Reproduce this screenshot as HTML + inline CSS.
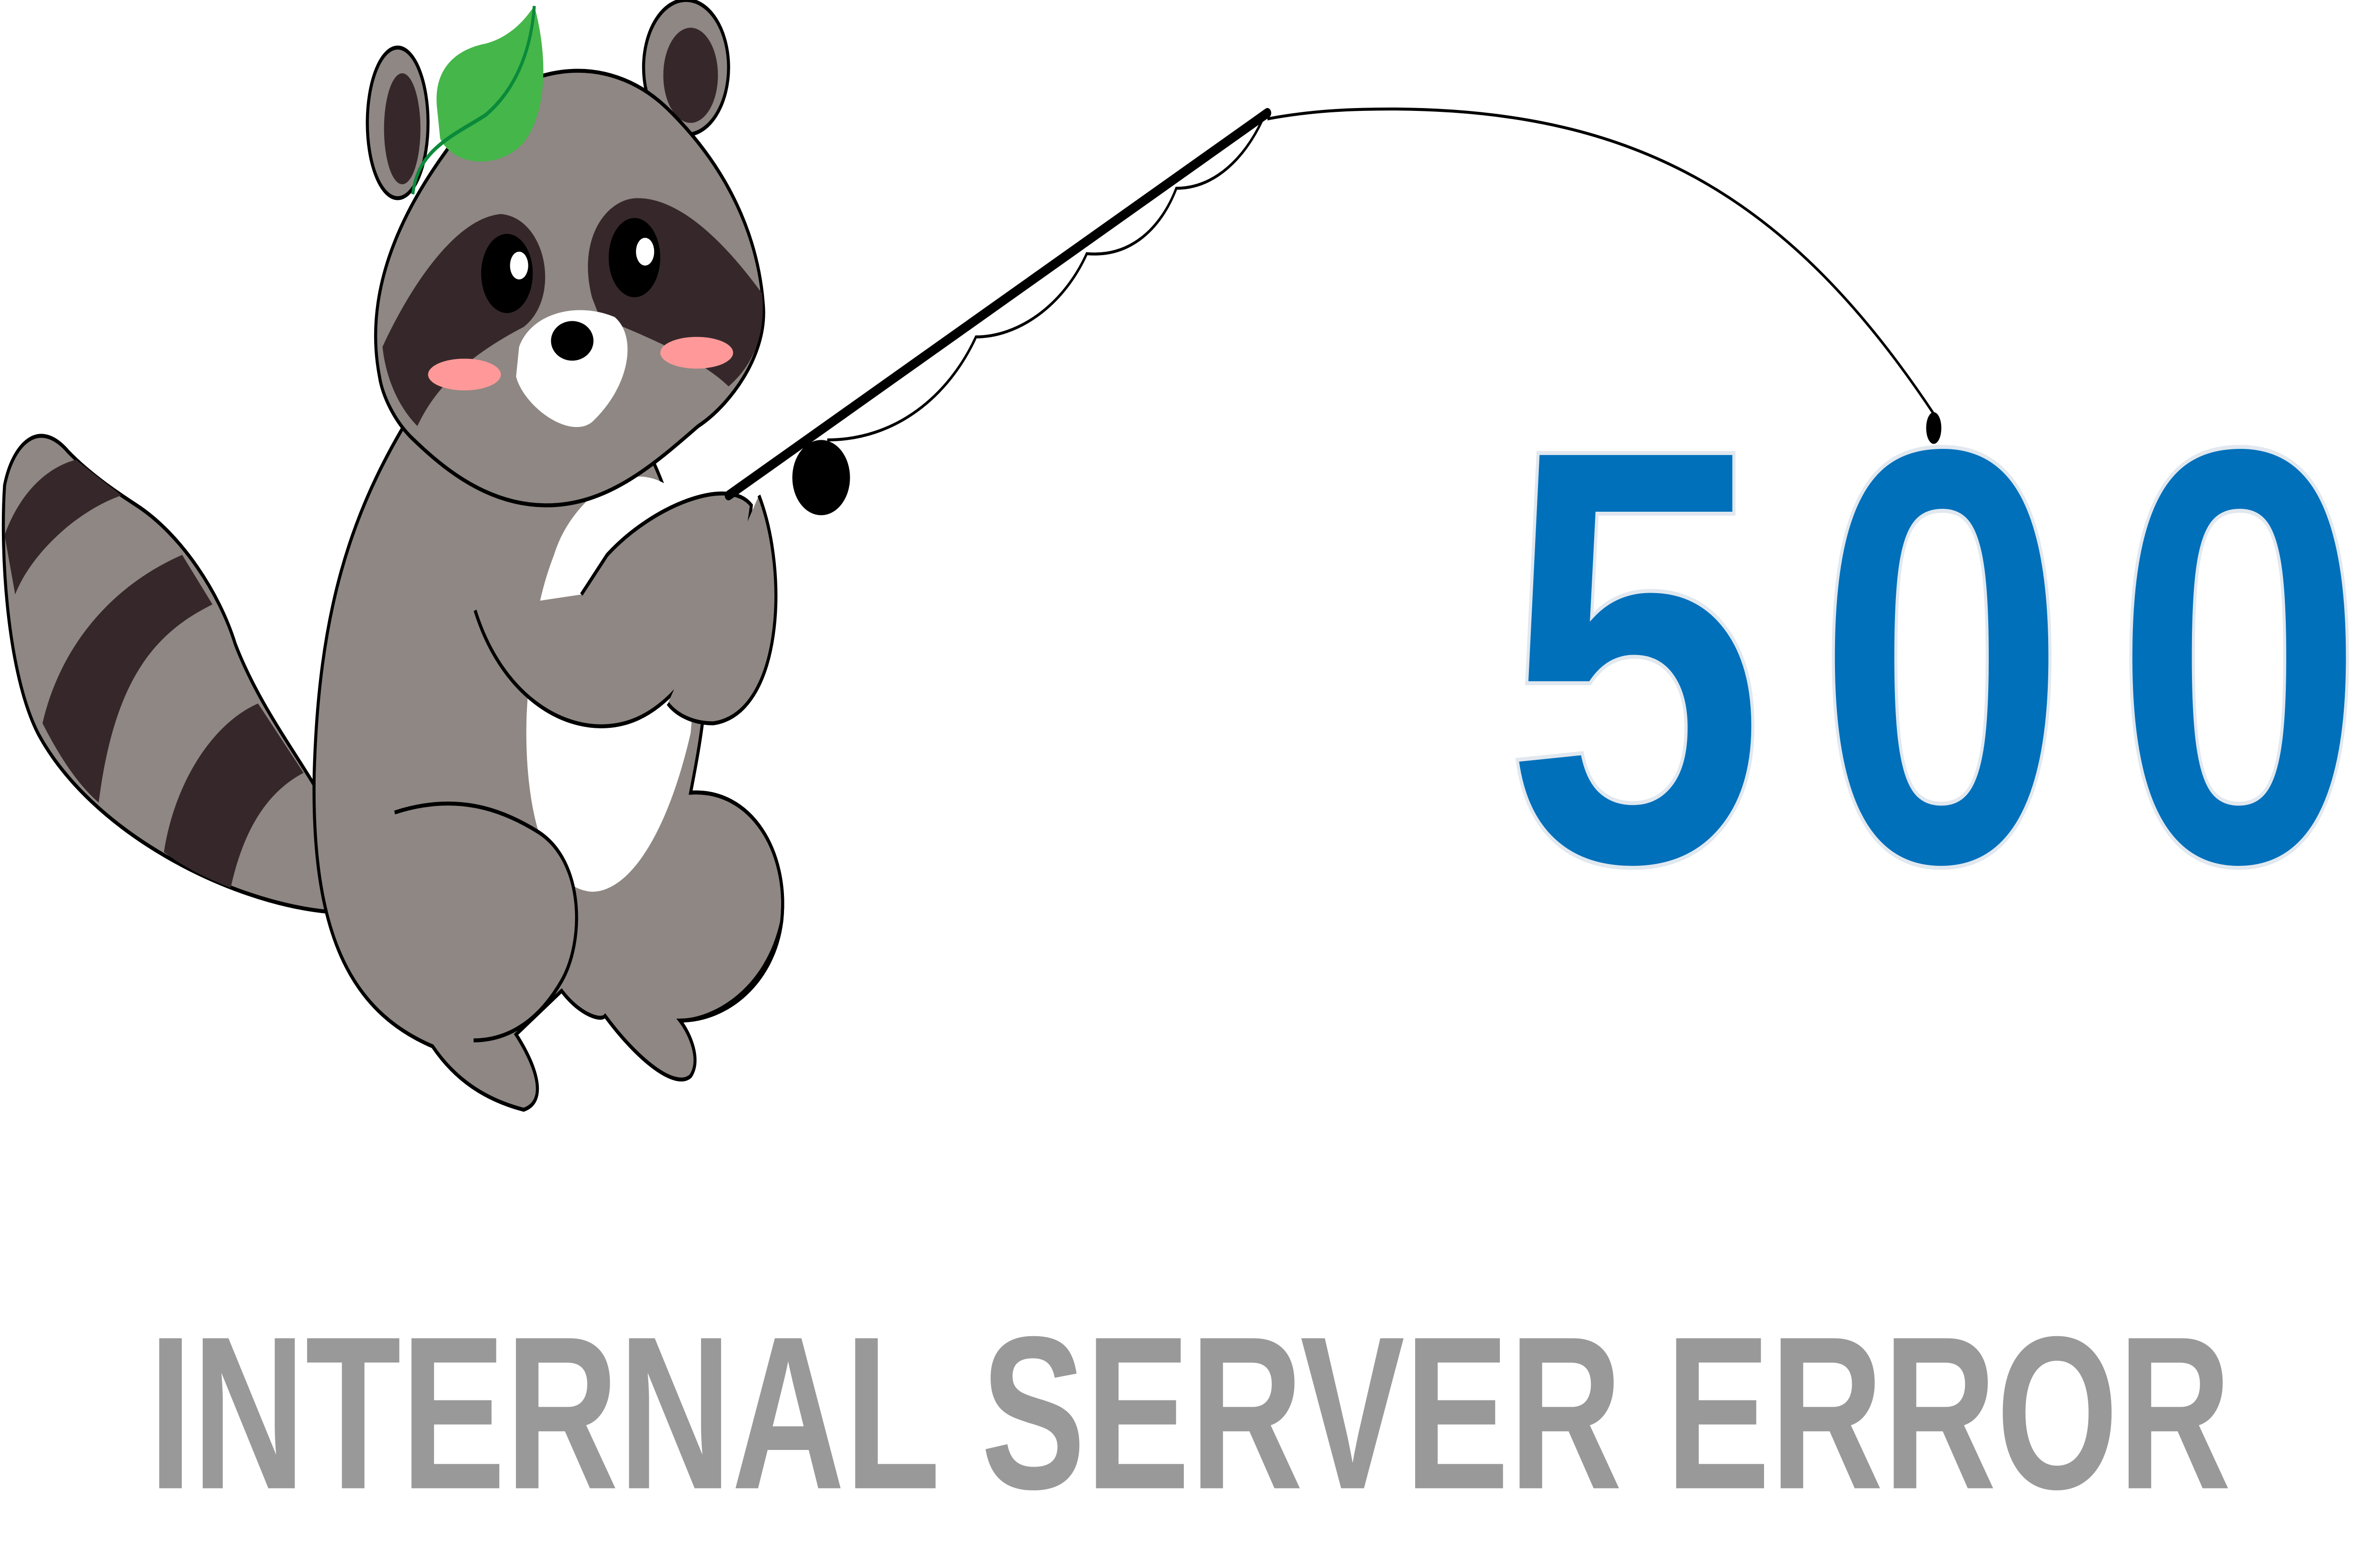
<!DOCTYPE html>
<html><head><meta charset="utf-8"><style>
html,body{margin:0;padding:0;background:#fff;width:100%;height:100%;overflow:hidden}
svg{display:block;position:fixed;left:0;top:0;width:100vw;height:100vh}
</style></head><body>
<svg viewBox="0 0 1568 786.2" preserveAspectRatio="none" xmlns="http://www.w3.org/2000/svg">
<!-- tail -->
<path d="M215,460 C150,455 60,420 25,370 C5,340 0,280 3,245 C8,225 25,210 45,228 C60,240 80,250 90,255 C120,270 145,300 155,325 C170,355 195,380 210,400 Z" fill="#8e8783" stroke="#000" stroke-width="2"/>
<path d="M3,270 C15,245 35,235 50,232 L80,250 C50,258 20,280 10,300 Z" fill="#36282a"/>
<path d="M28,365 C40,325 75,295 120,280 L140,305 C100,320 75,345 65,405 C50,395 38,380 28,365 Z" fill="#36282a"/>
<path d="M108,430 C115,395 140,365 170,355 L200,390 C175,400 160,420 152,448 C135,443 120,437 108,430 Z" fill="#36282a"/>
<!-- body -->
<path d="M270,210 C230,260 210,310 207,390 C205,470 230,510 285,528 C300,545 320,555 345,560 C360,556 355,540 340,522 L370,500 C385,515 400,515 398,512 C420,535 445,550 455,543 C462,535 455,522 448,515 C480,515 510,495 515,465 C520,430 495,398 455,400 C460,380 465,360 465,340 C450,260 430,220 400,200 Z" fill="#8e8783" stroke="#000" stroke-width="2"/>
<path d="M365,280 C375,255 410,230 440,245 C455,275 460,330 455,370 C440,420 415,450 390,450 C355,448 345,400 347,360 C350,320 355,300 365,280 Z" fill="#fff"/>
<path d="M260,410 C300,400 330,408 355,420 C385,435 385,475 370,495 C355,515 335,525 312,525" fill="#8e8783" stroke="#000" stroke-width="2"/>
<path d="M448,515 C470,515 505,500 515,465 C520,430 495,398 455,400" fill="none" stroke="#000" stroke-width="2"/>
<!-- arm -->
<path d="M313,308 C330,350 370,370 405,366 C460,360 490,290 495,255 C480,240 430,255 400,280 L383,300" fill="#8e8783" stroke="#000" stroke-width="2"/>
<path d="M500,250 C520,290 515,360 470,365 C455,365 445,360 440,355" fill="#8e8783" stroke="#000" stroke-width="2"/>
<!-- head -->
<ellipse cx="262" cy="62" rx="20" ry="38" fill="#8e8783" stroke="#000" stroke-width="2"/>
<ellipse cx="265" cy="65" rx="12" ry="28" fill="#36282a"/>
<ellipse cx="452" cy="34" rx="28" ry="34" fill="#8e8783" stroke="#000" stroke-width="2"/>
<ellipse cx="455" cy="38" rx="18" ry="24" fill="#36282a"/>
<path d="M250,190 C240,150 260,110 300,70 C340,30 400,25 440,55 C480,85 500,120 503,155 C505,180 480,205 460,215 C430,235 400,255 360,255 C320,255 290,235 270,220 C260,212 252,200 250,190 Z" fill="#8e8783" stroke="#000" stroke-width="2"/>
<path d="M252,175 C270,145 300,110 330,108 C360,110 370,150 345,165 C320,175 290,190 275,215 C262,205 254,190 252,175 Z" fill="#36282a"/>
<path d="M390,150 C380,120 400,100 420,100 C450,100 480,125 502,148 C505,170 495,185 480,195 C460,180 420,168 395,160 Z" fill="#36282a"/>
<ellipse cx="334" cy="138" rx="17" ry="20" fill="#000"/><ellipse cx="342" cy="134" rx="6" ry="7" fill="#fff"/>
<ellipse cx="418" cy="130" rx="17" ry="20" fill="#000"/><ellipse cx="425" cy="127" rx="6" ry="7" fill="#fff"/>
<path d="M342,175 C350,158 380,152 405,160 C420,170 415,195 390,213 C375,222 345,205 340,190 Z" fill="#fff"/>
<ellipse cx="377" cy="172" rx="14" ry="10" fill="#000"/>
<ellipse cx="306" cy="189" rx="24" ry="8" fill="#f99"/>
<ellipse cx="459" cy="178" rx="24" ry="8" fill="#f99"/>
<!-- leaf -->
<path d="M288,55 C285,35 300,25 320,22 C340,18 350,5 352,3 C360,25 362,55 345,72 C330,85 300,85 290,70 Z" fill="#45b649"/>
<path d="M272,98 C275,75 300,68 320,58 C340,45 350,25 352,3" fill="none" stroke="#0a8a3a" stroke-width="2"/>
<!-- rod -->
<line x1="480" y1="250" x2="835" y2="57" stroke="#000" stroke-width="5" stroke-linecap="round"/>
<circle cx="541" cy="241" r="19" fill="#000"/>
<path d="M545,222 C590,222 625,200 643,170 C670,170 700,155 716,128 C745,130 765,115 775,95 C800,95 820,80 832,60" fill="none" stroke="#000" stroke-width="1.5"/>
<path d="M835,60 C870,55 900,55 920,55 C1080,56 1180,100 1275,210" fill="none" stroke="#000" stroke-width="1.5"/>
<ellipse cx="1274" cy="216" rx="5" ry="8" fill="#000"/>
<!-- 500 -->
<g font-family="Liberation Sans, sans-serif" font-weight="bold" fill="#0070bb" stroke="#e1e8ef" stroke-width="2">
<text x="0" y="0" font-size="300" transform="translate(990,435) scale(1.04,1)">5</text>
<text x="0" y="0" font-size="300" transform="translate(1196,435) scale(1.0,1)">0</text>
<text x="0" y="0" font-size="300" transform="translate(1392,435) scale(1.0,1)">0</text>
</g>
<text x="98" y="751" font-family="Liberation Sans, sans-serif" font-weight="bold" font-size="110" fill="#999" textLength="1372" lengthAdjust="spacingAndGlyphs">INTERNAL SERVER ERROR</text>
</svg>
</body></html>
